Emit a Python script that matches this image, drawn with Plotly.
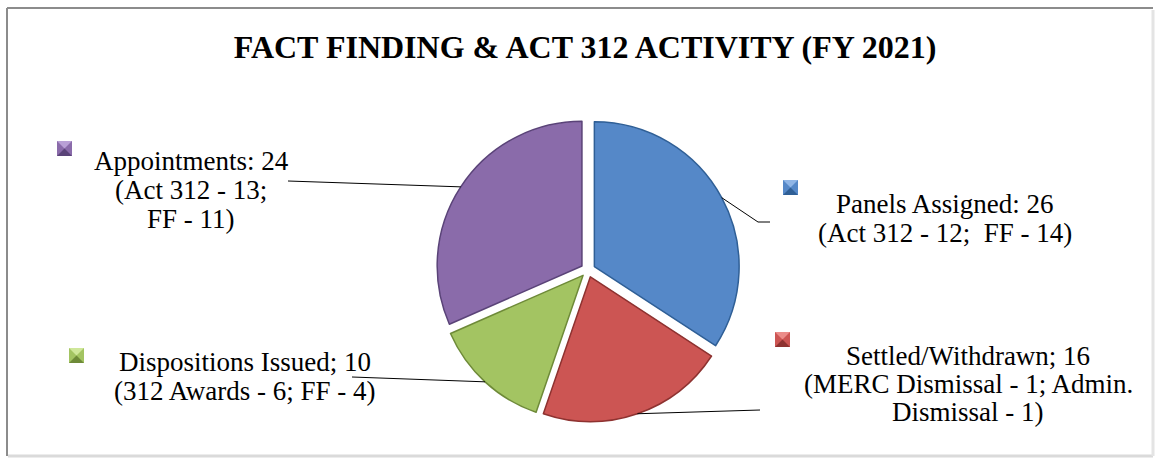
import math
import plotly.graph_objects as go

# ---------------- data ----------------
categories = ["Panels Assigned", "Settled/Withdrawn", "Dispositions Issued", "Appointments"]
values = [26, 16, 10, 24]
label_lines = [
    ["Panels Assigned: 26", "(Act 312 - 12;\u00a0 FF - 14)"],
    ["Settled/Withdrawn; 16", "(MERC Dismissal - 1; Admin.", "Dismissal - 1)"],
    ["Dispositions Issued; 10", "(312 Awards - 6; FF - 4)"],
    ["Appointments: 24", "(Act 312 - 13;", "FF - 11)"],
]
title_text = "FACT FINDING & ACT 312 ACTIVITY (FY 2021)"

# ---------------- styling / layout ----------------
W, H = 1155, 460
colors = ["#5588C8", "#CC5553", "#A3C462", "#8A6BAA"]
dark = ["#2F5F96", "#8E3230", "#6E8A38", "#5A4378"]
light = ["#8FB5E6", "#EB8C89", "#CFE79A", "#B9A0D6"]
FONT = "Liberation Serif, Times New Roman, serif"

cx, cy = 588, 270          # pie centre (px)
half = 152                 # domain half size (px)
pull = 0.05

def px(x):
    return x / W

def py(y):
    return 1 - y / H

# label layout: centre x, first line y, line spacing
label_pos = [
    (945, 204, 29),
    (968, 356, 28),
    (245, 362, 29),
    (191, 161, 29),
]
# leader-line label-side points (px)
leader_ends = [
    [(758, 222), (770, 222)],
    [(760, 410)],
    [(352, 377)],
    [(288, 181)],
]
# legend square top-left (px)
squares = [(783, 180), (775, 332), (69, 348), (57, 141)]
SQ = 15

fig = go.Figure()
fig.add_trace(go.Pie(
    labels=categories,
    values=values,
    sort=False,
    direction="clockwise",
    rotation=0,
    pull=[pull] * len(values),
    textinfo="none",
    hoverinfo="label+value",
    marker=dict(colors=colors, line=dict(color=dark, width=1.5)),
    domain=dict(x=[px(cx - half), px(cx + half)], y=[py(cy + half), py(cy - half)]),
    showlegend=False,
))

shapes = []
annotations = []

# frame
shapes.append(dict(type="line", xref="paper", yref="paper", x0=px(7), y0=py(8), x1=px(1153), y1=py(8),
                   line=dict(color="#8C8C8C", width=2)))
shapes.append(dict(type="line", xref="paper", yref="paper", x0=px(7), y0=py(8), x1=px(7), y1=py(456),
                   line=dict(color="#8C8C8C", width=2)))
shapes.append(dict(type="line", xref="paper", yref="paper", x0=px(8), y0=py(456), x1=px(1153), y1=py(456),
                   line=dict(color="#DADADA", width=3)))
shapes.append(dict(type="line", xref="paper", yref="paper", x0=px(1153), y0=py(10), x1=px(1153), y1=py(456),
                   line=dict(color="#E4E4E4", width=3)))

total = sum(values)
cum = 0
for i, v in enumerate(values):
    theta = (cum + v / 2) / total * 2 * math.pi
    cum += v
    R = half  # r*(1+pull) -> edge of pulled slice
    ax = cx + R * math.sin(theta)
    ay = cy - R * math.cos(theta)
    pts = [(ax, ay)] + leader_ends[i]
    for (x0, y0), (x1, y1) in zip(pts[:-1], pts[1:]):
        shapes.append(dict(type="line", xref="paper", yref="paper",
                           x0=px(x0), y0=py(y0), x1=px(x1), y1=py(y1),
                           line=dict(color="#000000", width=1)))
    # labels
    lx, ly, sp = label_pos[i]
    for k, t in enumerate(label_lines[i]):
        annotations.append(dict(text=t, x=px(lx), y=py(ly + k * sp), xref="paper", yref="paper",
                                xanchor="center", yanchor="middle", showarrow=False,
                                font=dict(family=FONT, size=27, color="#000000")))
    # legend square with bevel
    sx, sy = squares[i]
    shapes.append(dict(type="rect", xref="paper", yref="paper",
                       x0=px(sx), y0=py(sy), x1=px(sx + SQ), y1=py(sy + SQ),
                       fillcolor=colors[i], line=dict(width=0)))
    mx, my = sx + SQ / 2, sy + SQ / 2
    top = f"M {px(sx)} {py(sy)} L {px(sx + SQ)} {py(sy)} L {px(mx)} {py(my)} Z"
    bot = f"M {px(sx)} {py(sy + SQ)} L {px(sx + SQ)} {py(sy + SQ)} L {px(mx)} {py(my)} Z"
    shapes.append(dict(type="path", xref="paper", yref="paper", path=top, fillcolor=light[i], line=dict(width=0)))
    shapes.append(dict(type="path", xref="paper", yref="paper", path=bot, fillcolor=dark[i], line=dict(width=0)))

fig.update_layout(
    width=W, height=H,
    margin=dict(l=0, r=0, t=0, b=0),
    paper_bgcolor="#FFFFFF",
    plot_bgcolor="#FFFFFF",
    title=dict(text="<b>" + title_text + "</b>", x=px(585), y=py(47), xref="paper", yref="paper",
               xanchor="center", yanchor="middle",
               font=dict(family=FONT, size=32, color="#000000")),
    shapes=shapes,
    annotations=annotations,
)

fig.write_html("out.html")
